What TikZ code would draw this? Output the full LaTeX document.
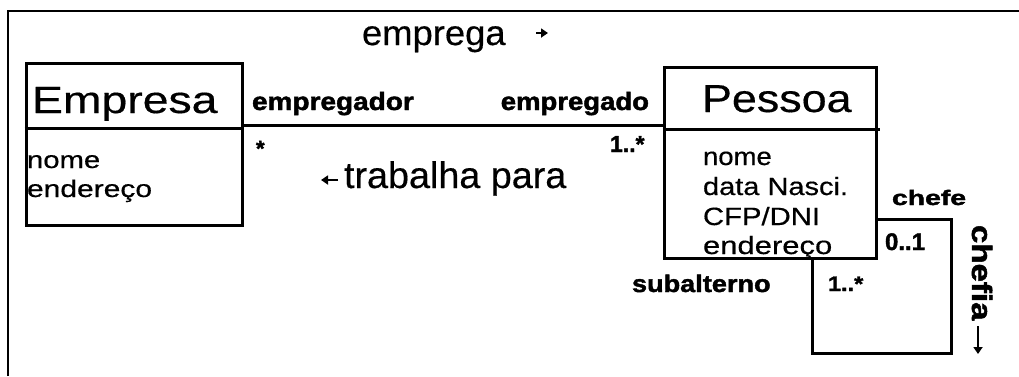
\documentclass[tikz,border=0pt]{standalone}
\usepackage{fontspec}
\setmainfont{Liberation Sans}
\newfontfamily\heavyfont[FakeBold=1.6]{Liberation Sans Bold}
\newfontfamily\regfont[FakeBold=0.4]{Liberation Sans}
\usepackage{graphicx}
\usetikzlibrary{arrows.meta}
\newcommand{\tx}[3]{\fontsize{#1}{#1}\regfont\scalebox{#2}[1]{#3}}
\newcommand{\btx}[3]{\fontsize{#1}{#1}\heavyfont\scalebox{#2}[1]{#3}}
\tikzset{
  lbl/.style={inner sep=0pt, outer sep=0pt, anchor=base west},
  umlbox/.style={draw, line width=3pt, inner sep=0pt},
  rulel/.style={line width=3pt},
  framel/.style={line width=2pt},
  tinyarrow/.style={line width=2.6pt, -{Triangle[length=7pt,width=9pt]}}
}
\begin{document}
\begin{tikzpicture}[x=1pt,y=-1pt]
\useasboundingbox (0,0) rectangle (1019,376);
% frame
\coordinate (f0) at (8,376);
\coordinate (f1) at (8,11);
\coordinate (f2) at (1019,11);
\draw[framel] (f0) -- (f1) -- (f2);
% classes
\node[umlbox, minimum width=216pt, minimum height=162pt] (empresa) at (134,144) {};
\node[umlbox, minimum width=212pt, minimum height=191pt] (pessoa) at (770,162.5) {};
\coordinate (ed) at (134,128);
\draw[rulel] (empresa.west |- ed) -- (empresa.east |- ed);
\coordinate (pd) at (880,129);
\draw[rulel] (pessoa.west |- pd) -- (pd);
% association
\coordinate (as) at (450,125);
\draw[rulel] (empresa.east |- as) -- (pessoa.west |- as);
% self association
\coordinate (lp1) at (951,219);
\coordinate (lp2) at (812,353);
\draw[rulel] (pessoa.east |- lp1) -- (lp1) |- (lp2) -- (lp2 |- pessoa.south);
% class names and attributes
\node[lbl] (tE) at (32,113) {\tx{38}{1.22}{Empresa}};
\node[lbl] (eA1) at (27,168) {\tx{24}{1.22}{nome}};
\node[lbl] (eA2) at (27,197) {\tx{24}{1.25}{endereço}};
\node[lbl] (tP) at (702,112) {\tx{39}{1.15}{Pessoa}};
\node[lbl] (pA1) at (703,165) {\tx{25}{1.10}{nome}};
\node[lbl] (pA2) at (703,195) {\tx{25}{1.16}{data Nasci.}};
\node[lbl] (pA3) at (703,225) {\tx{25}{1.17}{CFP/DNI}};
\node[lbl] (pA4) at (703,254) {\tx{25}{1.24}{endereço}};
% association names
\node[lbl] (emprega) at (362,45) {\tx{35}{1.04}{emprega}};
\draw[tinyarrow] (536,33) -- (548,33);
\node[lbl] (trab) at (344,188) {\tx{37}{1.02}{trabalha para}};
\draw[tinyarrow] (338,180) -- (321,180);
% roles and multiplicities
\node[lbl] (r1) at (252,110) {\btx{25}{1.12}{empregador}};
\node[lbl, anchor=base east] (r2) at (649,110) {\btx{25}{1.10}{empregado}};
\node[lbl] (m1) at (256,156) {\btx{22}{1.0}{*}};
\node[lbl] (m2) at (610,152) {\btx{23}{1.0}{1..*}};
\node[lbl] (r3) at (892,205) {\btx{21}{1.35}{chefe}};
\node[lbl] (m3) at (885,250) {\btx{24}{1.0}{0..1}};
\node[lbl] (r4) at (632,292) {\btx{24}{1.13}{subalterno}};
\node[lbl] (m4) at (828,291) {\btx{21}{1.12}{1..*}};
\node[lbl, rotate=-90] (chefia) at (972,225) {\btx{28}{1.18}{chefia}};
\draw[tinyarrow] (978,326) -- (978,354);
\end{tikzpicture}
\end{document}
